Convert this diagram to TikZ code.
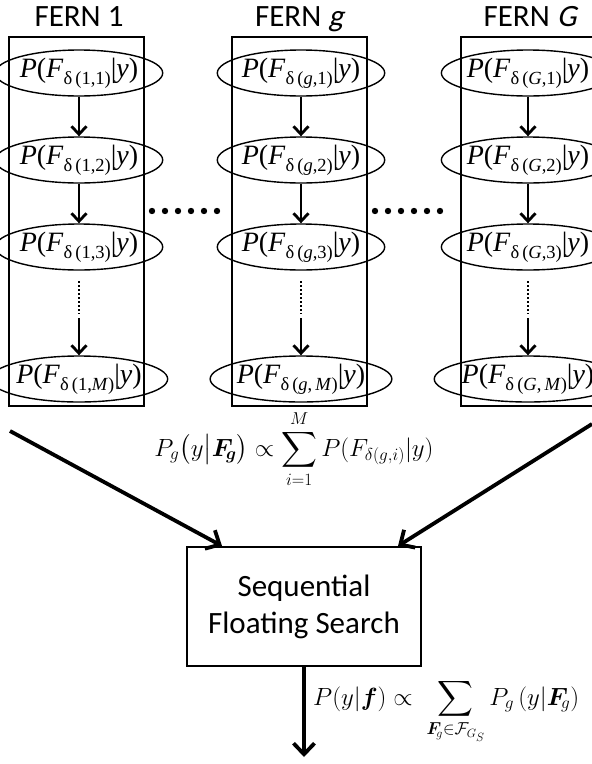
\documentclass[tikz,border=0pt]{standalone}
\usepackage{amsmath,bm}
\usepackage{fontspec}
\setmainfont{Liberation Serif}
\newfontfamily\calfont{Carlito}
\newfontfamily\calit{Carlito}[FakeSlant=0.22]
\usetikzlibrary{arrows.meta,shapes.geometric}
\newcommand{\pf}[1]{\textit{P}(\textit{F}\raisebox{-7pt}{\fontsize{18.5}{18.5}\selectfont δ\,#1}|\textit{y})}
\tikzset{
  fernbox/.style={draw, line width=1.5pt, minimum width=135pt, minimum height=369pt, inner sep=0pt},
  prob/.style={ellipse, draw, line width=1.4pt, minimum width=128pt, minimum height=46pt, inner sep=0pt,
    font=\fontsize{28}{28}\selectfont},
  flow/.style={-{Straight Barb[length=8pt,width=15pt]}, line width=2.8pt},
  dotline/.style={line width=1.8pt, dash pattern=on 1.8pt off 2.2pt},
  bigarrow/.style={-{Straight Barb[length=11pt,width=21pt]}, line width=3.8pt},
  title/.style={font=\calfont\fontsize{31}{36}\selectfont, anchor=base, inner sep=0pt},
  sfsbox/.style={draw, line width=2pt, minimum width=234pt, minimum height=119pt, align=center,
    font=\calfont\fontsize{31}{37}\selectfont},
  formula/.style={inner sep=0pt, font=\fontsize{24}{28}\selectfont}
}
\begin{document}
\begin{tikzpicture}[x=1pt,y=-1pt]
\useasboundingbox (0,0) rectangle (592,764);
% titles
\node[title] (t1) at (79,26) {FERN 1};
\node[title] (t2) at (299,26) {FERN {\calit g}};
\node[title] (t3) at (530,26) {FERN {\calit G}};
% boxes
\node[fernbox] (b1) at (76.5,221.5) {};
\node[fernbox] (b2) at (299.5,221.5) {};
\node[fernbox] (b3) at (528.5,221.5) {};
% column 1
\node[prob] (a1) at (79,73) {\pf{(1,1)}};
\node[prob] (a2) at (79,160) {\pf{(1,2)}};
\node[prob] (a3) at (79,247) {\pf{(1,3)}};
\node[prob] (aM) at (79,379) {\pf{(1,\textit{M})}};
% column g
\node[prob] (g1) at (301,73) {\pf{(\textit{g},1)}};
\node[prob] (g2) at (301,160) {\pf{(\textit{g},2)}};
\node[prob] (g3) at (301,247) {\pf{(\textit{g},3)}};
\node[prob] (gM) at (301,379) {\pf{(\textit{g},\,\textit{M})}};
% column G
\node[prob] (G1) at (528,73) {\pf{(\textit{G},1)}};
\node[prob] (G2) at (528,160) {\pf{(\textit{G},2)}};
\node[prob] (G3) at (528,247) {\pf{(\textit{G},3)}};
\node[prob] (GM) at (528,379) {\pf{(\textit{G},\,\textit{M})}};
% arrows in columns
\foreach \c/\x in {a/79, g/301, G/528}{
  \draw[flow] (\c1) -- (\c2);
  \draw[flow] (\c2) -- (\c3);
  \coordinate (\c d1) at (\x,281);
  \coordinate (\c d2) at (\x,314);
  \coordinate (\c d3) at (\x,318);
  \draw[dotline] (\c d1) -- (\c d2);
  \draw[flow] (\c d3) -- (\c M);
}
% dots between columns
\foreach \i in {0,...,5}{
  \fill (152+\i*13,211) circle (3.2pt);
  \fill (375+\i*13,211) circle (3.2pt);
}
% formula 1
\node[formula, anchor=base] (f1) at (294,456)
  {$\displaystyle P_g\bigl(y\big|\bm{F}_{\!\bm{g}}\bigr) \propto \sum_{i=1}^{M} P(F_{\delta(g,i)}|y)$};
% sequential floating search
\node[sfsbox] (sfs) at (304,606.5) {Sequential\\Floating Search};
\coordinate (s1) at (10,431);
\coordinate (s2) at (592,424);
\draw[bigarrow] (s1) -- ([xshift=36pt]sfs.north west);
\draw[bigarrow] (s2) -- ([xshift=-24pt]sfs.north east);
\coordinate (out) at (304,757);
\draw[bigarrow] (sfs) -- (out);
% formula 2
\node[formula, anchor=base west, font=\fontsize{23}{27}\selectfont] (f2) at (313,705)
  {$\displaystyle P(y|\bm{f}) \propto \;\sum_{\bm{F}_{\!g}\in\mathcal{F}_{G_S}} P_g\,(y|\bm{F}_{\!g})$};
\end{tikzpicture}
\end{document}
